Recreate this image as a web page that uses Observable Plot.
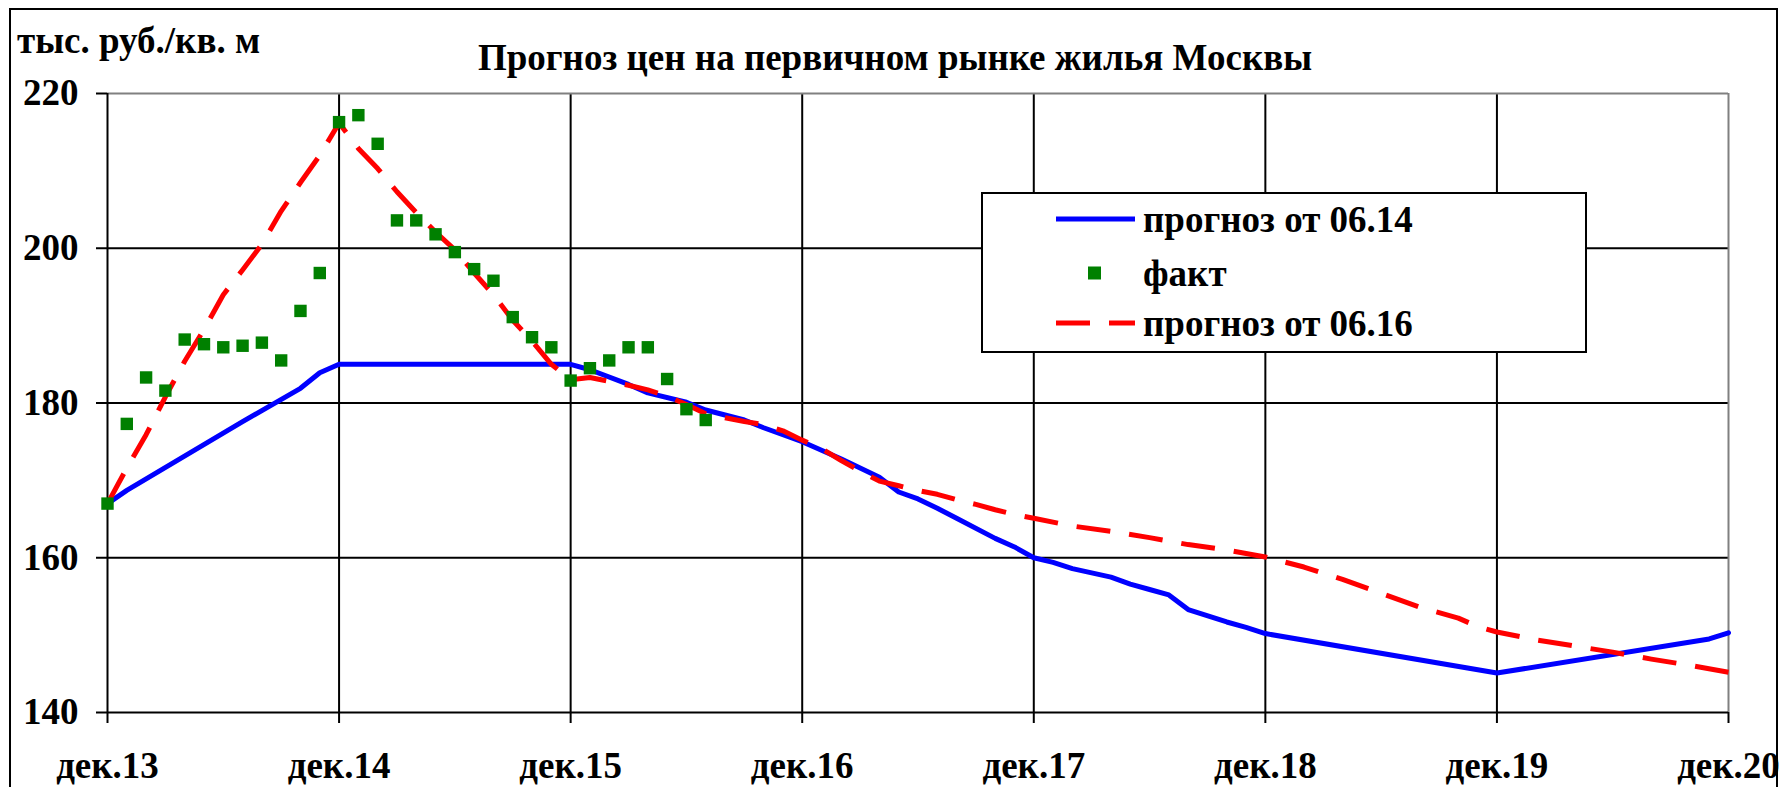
<!DOCTYPE html>
<html>
<head>
<meta charset="utf-8">
<script src="https://cdn.jsdelivr.net/npm/d3@7"></script>
<script src="https://cdn.jsdelivr.net/npm/@observablehq/plot@0.6"></script>
<style>
  html, body { margin: 0; padding: 0; background: #fff; overflow: hidden; }
  #wrap { position: relative; width: 1779px; height: 787px; overflow: hidden; background: #fff; }
  #frame { position: absolute; left: 9px; top: 8px; width: 1769px; height: 900px; border: 2px solid #000; box-sizing: border-box; }
  #wrap svg { position: absolute; left: 0; top: 0; }
</style>
</head>
<body>
<div id="wrap"><div id="frame"></div></div>
<script>
// ---------- data ----------
const title = "Прогноз цен на первичном рынке жилья Москвы";
const unitLabel = "тыс. руб./кв. м";
const seriesNames = ["прогноз от 06.14", "факт", "прогноз от 06.16"];

const xTickMonths = ["2013-12","2014-12","2015-12","2016-12","2017-12","2018-12","2019-12","2020-12"];
const xTickLabels = ["дек.13","дек.14","дек.15","дек.16","дек.17","дек.18","дек.19","дек.20"];
const yTicks = [140, 160, 180, 200, 220];

// факт (monthly)
const factMonths = ["2013-12","2014-01","2014-02","2014-03","2014-04","2014-05","2014-06","2014-07","2014-08","2014-09","2014-10","2014-11",
  "2014-12","2015-01","2015-02","2015-03","2015-04","2015-05","2015-06","2015-07","2015-08","2015-09","2015-10","2015-11",
  "2015-12","2016-01","2016-02","2016-03","2016-04","2016-05","2016-06","2016-07"];
const factValues = [167.0,177.3,183.3,181.6,188.2,187.6,187.2,187.4,187.8,185.5,191.9,196.8,
  216.3,217.2,213.5,203.6,203.6,201.8,199.5,197.3,195.8,191.1,188.5,187.2,
  182.9,184.5,185.5,187.2,187.2,183.1,179.2,177.8];

// прогноз от 06.14 (vertices)
const f14Months = ["2013-12","2014-01","2014-07","2014-10","2014-11","2014-12","2015-12","2016-01","2016-03","2016-04","2016-06","2016-07",
  "2016-09","2016-10","2016-12","2017-02","2017-04","2017-05","2017-06","2017-07","2017-08","2017-10","2017-11","2017-12",
  "2018-01","2018-02","2018-04","2018-05","2018-06","2018-07","2018-08","2018-10","2018-11","2018-12","2019-12","2020-11","2020-12"];
const f14Values = [167.0,168.7,177.6,181.9,183.9,185.0,185.0,184.3,182.4,181.3,180.1,179.1,
  177.8,176.8,175.0,172.8,170.4,168.5,167.6,166.4,165.1,162.5,161.4,160.0,
  159.4,158.6,157.5,156.6,155.9,155.2,153.3,151.7,151.0,150.2,145.1,149.5,150.3];

// прогноз от 06.16
const f16Months = ["2013-12","2014-01","2014-02","2014-03","2014-04","2014-05","2014-06","2014-07","2014-08","2014-09","2014-10","2014-11",
  "2014-12","2015-01","2015-02","2015-03","2015-04","2015-05","2015-06","2015-07","2015-08","2015-09","2015-10","2015-11",
  "2015-12","2016-01","2016-02","2016-03","2016-04","2016-05","2016-06","2016-07","2016-08","2016-09","2016-10","2016-11",
  "2016-12","2017-01","2017-02","2017-03","2017-04","2017-05","2017-06","2017-07","2017-08","2017-09","2017-10","2017-11",
  "2017-12","2018-02","2018-04","2018-06","2018-08","2018-10","2018-12","2019-02","2019-04","2019-06","2019-08","2019-10",
  "2019-11","2019-12","2020-02","2020-04","2020-06","2020-08","2020-10","2020-12"];
const f16Values = [167.0,171.6,175.9,180.8,185.4,189.5,194.0,197.2,200.5,204.8,208.5,212.0,
  216.2,212.9,210.3,207.3,204.6,202.1,199.8,196.8,194.0,190.7,188.0,185.0,
  183.0,183.3,182.8,182.3,181.7,180.9,179.8,178.6,178.1,177.6,177.2,176.4,
  175.2,174.1,172.6,171.2,169.9,169.3,168.7,168.2,167.5,166.9,166.2,165.6,
  165.1,164.1,163.4,162.6,161.7,161.0,160.1,158.8,157.2,155.4,153.6,152.2,
  151.1,150.4,149.4,148.6,147.8,146.9,146.1,145.2];

// ---------- helpers ----------
const monthIndex = s => { const [y, m] = s.split("-").map(Number); return (y - 2013) * 12 + (m - 12); };
const toRows = (months, values) => months.map((m, i) => ({x: monthIndex(m), y: values[i]}));
const fact = toRows(factMonths, factValues);
const f14 = toRows(f14Months, f14Values);
const f16 = toRows(f16Months, f16Values);
const xTicks = xTickMonths.map(monthIndex);
const labelOf = new Map(xTicks.map((t, i) => [t, xTickLabels[i]]));

const FONT = "'Liberation Serif', 'Times New Roman', Times, serif";
const BLUE = "#0000ff", RED = "#ff0000", GREEN = "#008000";

const chart = Plot.plot({
  width: 1779,
  height: 787,
  marginLeft: 107,
  marginRight: 51,
  marginTop: 93,
  marginBottom: 75,
  style: { fontFamily: FONT, fontSize: "37px", fontWeight: "bold", color: "#000", background: "transparent", overflow: "visible" },
  x: { type: "linear", domain: [xTicks[0], xTicks[xTicks.length - 1]], label: null },
  y: { domain: [yTicks[0], yTicks[yTicks.length - 1]], label: null },
  marks: [
    Plot.gridY(yTicks.slice(1, -1), { stroke: "#000", strokeOpacity: 1, strokeWidth: 2 }),
    Plot.gridX(xTicks.slice(1, -1), { stroke: "#000", strokeOpacity: 1, strokeWidth: 2 }),
    Plot.ruleY([yTicks[yTicks.length - 1]], { stroke: "#808080", strokeWidth: 2 }),
    Plot.ruleX([xTicks[xTicks.length - 1]], { stroke: "#808080", strokeWidth: 2 }),
    Plot.ruleX([xTicks[0]], { stroke: "#000", strokeWidth: 2 }),
    Plot.ruleY([yTicks[0]], { stroke: "#000", strokeWidth: 2 }),
    Plot.axisY(yTicks, { tickSize: 11, tickPadding: 18, strokeWidth: 2, tickFormat: d => String(d), label: null }),
    Plot.axisX(xTicks, { tickSize: 11, tickPadding: 28, strokeWidth: 2, tickFormat: d => labelOf.get(d), label: null }),
    Plot.line(f14, { x: "x", y: "y", stroke: BLUE, strokeWidth: 5, strokeLinejoin: "round" }),
    Plot.line(f16, { x: "x", y: "y", stroke: RED, strokeWidth: 5, strokeDasharray: "34,19", strokeLinejoin: "round", strokeLinecap: "butt" }),
    Plot.dot(fact, { x: "x", y: "y", symbol: "square", r: 7, fill: GREEN, stroke: "none" })
  ]
});
document.getElementById("wrap").appendChild(chart);

// ---------- title, unit label and legend (overlay) ----------
const ov = d3.select("#wrap").append("svg")
  .attr("width", 1779).attr("height", 787)
  .style("font-family", FONT).style("font-weight", "bold").style("font-size", "37px");

ov.append("text").attr("x", 895).attr("y", 70).attr("text-anchor", "middle").text(title);
ov.append("text").attr("x", 17).attr("y", 53).text(unitLabel);

const lg = ov.append("g");
lg.append("rect").attr("x", 982).attr("y", 193).attr("width", 604).attr("height", 159)
  .attr("fill", "#fff").attr("stroke", "#000").attr("stroke-width", 2);
const rows = [219, 273, 323];
lg.append("line").attr("x1", 1056).attr("x2", 1135).attr("y1", rows[0]).attr("y2", rows[0])
  .attr("stroke", BLUE).attr("stroke-width", 5);
lg.append("rect").attr("x", 1088).attr("y", rows[1] - 6.5).attr("width", 13).attr("height", 13).attr("fill", GREEN);
lg.append("line").attr("x1", 1056).attr("x2", 1135).attr("y1", rows[2]).attr("y2", rows[2])
  .attr("stroke", RED).attr("stroke-width", 5).attr("stroke-dasharray", "34,19");
seriesNames.forEach((name, i) => {
  lg.append("text").attr("x", 1143).attr("y", rows[i]).attr("dy", "0.35em").text(name);
});
</script>
</body>
</html>
